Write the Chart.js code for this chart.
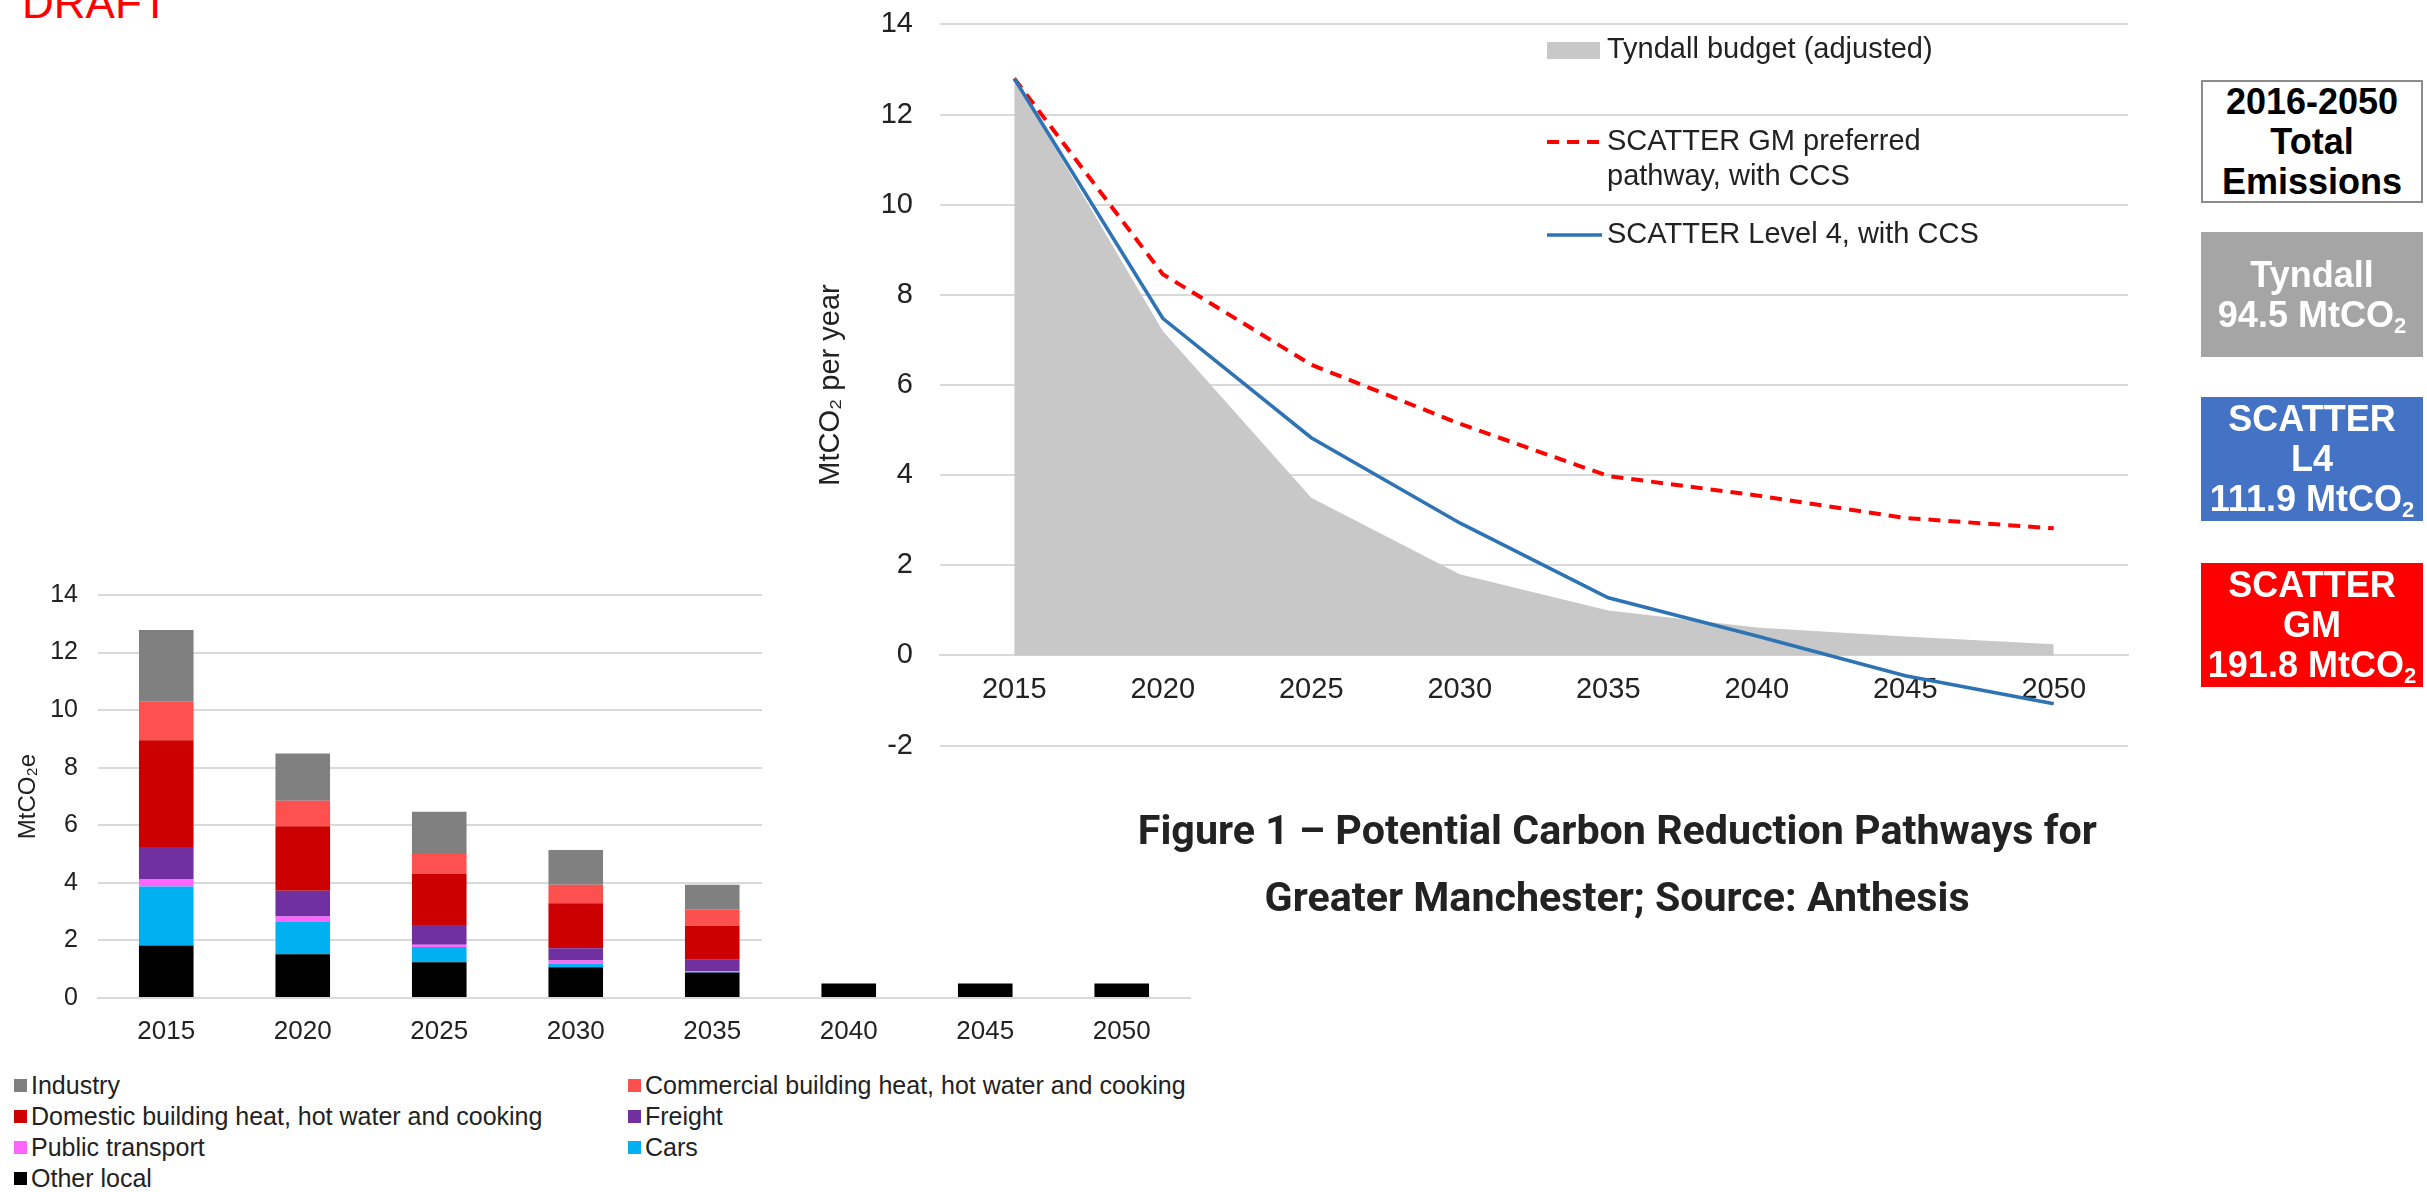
<!DOCTYPE html>
<html>
<head>
<meta charset="utf-8">
<script src="https://cdn.jsdelivr.net/npm/chart.js@4/dist/chart.umd.min.js"></script>
<style>
  html, body { margin: 0; padding: 0; background: #fff; }
  body { width: 2427px; height: 1192px; position: relative; overflow: hidden; font-family: 'Liberation Sans', Arial, sans-serif; }
  canvas { position: absolute; }
  #barCanvas { left: 0; top: 560px; z-index: 0; }
  #mask { position: absolute; left: 762px; top: 0; width: 1440px; height: 962px; background: #fff; z-index: 1; }
  #lineCanvas { left: 780px; top: -20px; z-index: 2; }
  #draft { position: absolute; left: 22px; top: -19px; font-size: 44px; line-height: 44px; color: #ff0000; z-index: 3; }
  .cap { position: absolute; left: 917px; width: 1400px; height: 60px; line-height: 60px; text-align: center; z-index: 3;
         font-family: Roboto, 'Liberation Sans', sans-serif; font-weight: 700; font-size: 40px; color: #222; white-space: nowrap; }
  .cap span { display: inline-block; }
  .box { position: absolute; left: 2201px; width: 222px; display: flex; align-items: center; justify-content: center; text-align: center;
         font-weight: bold; font-size: 36px; line-height: 40px; color: #fff; z-index: 3; box-sizing: border-box; }
  .box sub { font-size: 22px; line-height: 0; vertical-align: -6px; }
  #legendBar { position: absolute; left: 14px; top: 1070px; z-index: 3; display: grid; grid-template-columns: 614px auto; row-gap: 0; }
  .li { height: 31px; line-height: 31px; font-size: 25px; color: #222; white-space: nowrap; display: flex; align-items: center; }
  .li i { display: inline-block; width: 13px; height: 13px; margin-right: 4px; }
</style>
</head>
<body>
<div id="draft">DRAFT</div>
<canvas id="barCanvas" width="1200" height="500"></canvas>
<div id="mask"></div>
<canvas id="lineCanvas" width="1360" height="810"></canvas>
<div class="cap" id="cap1" style="top:801px"><span>Figure 1 – Potential Carbon Reduction Pathways for</span></div>
<div class="cap" id="cap2" style="top:868px"><span>Greater Manchester; Source: Anthesis</span></div>
<div class="box" style="top:80px;height:123px;border:2px solid #8c8c8c;background:#fff;color:#000;"><div>2016-2050<br>Total<br>Emissions</div></div>
<div class="box" style="top:232px;height:125px;background:#a5a5a5;"><div>Tyndall<br>94.5 MtCO<sub>2</sub></div></div>
<div class="box" style="top:397px;height:124px;background:#4472c4;"><div>SCATTER<br>L4<br>111.9 MtCO<sub>2</sub></div></div>
<div class="box" style="top:563px;height:124px;background:#ff0000;"><div>SCATTER<br>GM<br>191.8 MtCO<sub>2</sub></div></div>
<div id="legendBar"></div>
<script>
const years = ['2015', '2020', '2025', '2030', '2035', '2040', '2045', '2050']

// sector emissions, MtCO2e (stack order: bottom first)
const otherLocal      = [1.82, 1.52, 1.24, 1.07, 0.89, 0.5, 0.5, 0.5]
const cars            = [2.05, 1.14, 0.53, 0.12, 0.02, 0, 0, 0]
const publicTransport = [0.26, 0.17, 0.08, 0.11, 0.02, 0, 0, 0]
const freight         = [1.12, 0.90, 0.69, 0.43, 0.40, 0, 0, 0]
const domestic        = [3.70, 2.24, 1.77, 1.56, 1.18, 0, 0, 0]
const commercial      = [1.36, 0.88, 0.69, 0.64, 0.57, 0, 0, 0]
const industry        = [2.47, 1.64, 1.47, 1.21, 0.85, 0, 0, 0]

// pathways, MtCO2 per year
const tyndall   = [12.8, 7.2, 3.5, 1.8, 1.0, 0.62, 0.42, 0.25]
const scatterGM = [12.8, 8.46, 6.45, 5.14, 3.98, 3.55, 3.05, 2.82]
const scatterL4 = [12.8, 7.48, 4.83, 2.94, 1.28, 0.43, -0.45, -1.07]

const barTicks = [0, 2, 4, 6, 8, 10, 12, 14]
const lineTicks = [-2, 0, 2, 4, 6, 8, 10, 12, 14]

const sectors = [
  { label: 'Other local', data: otherLocal, color: '#000000' },
  { label: 'Cars', data: cars, color: '#00b0f0' },
  { label: 'Public transport', data: publicTransport, color: '#ff66ff' },
  { label: 'Freight', data: freight, color: '#7030a0' },
  { label: 'Domestic building heat, hot water and cooking', data: domestic, color: '#cc0000' },
  { label: 'Commercial building heat, hot water and cooking', data: commercial, color: '#ff5050' },
  { label: 'Industry', data: industry, color: '#808080' }
]

const txt = '#222'
const grid = '#d9d9d9'
const fam = "'Liberation Sans', Arial, sans-serif"

function buildBar () {
  const ctx = document.getElementById('barCanvas').getContext('2d')
  new Chart(ctx, {
    type: 'bar',
    data: {
      labels: years,
      datasets: sectors.map(s => ({
        label: s.label,
        data: s.data,
        backgroundColor: s.color,
        borderWidth: 0,
        barPercentage: 0.4,
        categoryPercentage: 1
      }))
    },
    options: {
      responsive: false,
      animation: false,
      layout: { padding: { top: 33, right: 10, left: 0, bottom: 0 } },
      plugins: { legend: { display: false }, tooltip: { enabled: false } },
      scales: {
        x: {
          stacked: true,
          grid: { display: false },
          border: { display: true, color: grid, width: 2 },
          ticks: { color: txt, padding: 10, font: { family: fam, size: 26 } },
          afterFit: s => { s.height = 62 }
        },
        y: {
          stacked: true,
          min: 0,
          max: 14,
          afterBuildTicks: s => { s.ticks = barTicks.map(v => ({ value: v })) },
          ticks: { color: txt, padding: 20, font: { family: fam, size: 25 } },
          grid: { color: grid, lineWidth: 2, drawTicks: false },
          border: { display: false },
          title: { display: true, text: 'MtCO₂e', color: txt, padding: { top: 14, bottom: 0 }, font: { family: fam, size: 24 } },
          afterFit: s => { s.width = 98 }
        }
      }
    }
  })

  // legend: top of the stack first, two columns
  const leg = document.getElementById('legendBar')
  sectors.slice().reverse().forEach(s => {
    const d = document.createElement('div')
    d.className = 'li'
    d.innerHTML = '<i style="background:' + s.color + '"></i>' + s.label
    leg.appendChild(d)
  })
}

const lineLegend = {
  id: 'lineLegend',
  afterDraw (chart) {
    const c = chart.ctx
    const x0 = 767, x1 = 822, tx = 827
    const rows = [70, 162, 255]
    c.save()
    c.font = '29px ' + fam
    c.fillStyle = txt
    c.textBaseline = 'middle'
    chart.data.datasets.forEach((ds, i) => {
      const y = rows[i]
      if (ds.fill) {
        c.fillStyle = ds.backgroundColor
        c.fillRect(x0, y - 8, x1 - x0 - 2, 17)
      } else {
        c.strokeStyle = ds.borderColor
        c.lineWidth = ds.borderWidth
        c.setLineDash(ds.borderDash || [])
        c.beginPath()
        c.moveTo(x0, y)
        c.lineTo(x1, y)
        c.stroke()
        c.setLineDash([])
      }
      c.fillStyle = txt
      ds.label.split('\n').forEach((t, k) => c.fillText(t, tx, y + k * 35))
    })
    c.restore()
  }
}

function buildLine () {
  const ctx = document.getElementById('lineCanvas').getContext('2d')
  new Chart(ctx, {
    type: 'line',
    data: {
      labels: years,
      datasets: [
        {
          label: 'Tyndall budget (adjusted)',
          data: tyndall,
          fill: 'origin',
          backgroundColor: '#c8c8c8',
          borderWidth: 0,
          borderColor: 'rgba(0,0,0,0)',
          pointRadius: 0,
          tension: 0,
          order: 3
        },
        {
          label: 'SCATTER GM preferred\npathway, with CCS',
          data: scatterGM,
          fill: false,
          borderColor: '#ff0000',
          borderWidth: 4,
          borderDash: [12, 8],
          pointRadius: 0,
          tension: 0,
          order: 2
        },
        {
          label: 'SCATTER Level 4, with CCS',
          data: scatterL4,
          fill: false,
          borderColor: '#2e74b5',
          borderWidth: 3.5,
          pointRadius: 0,
          tension: 0,
          order: 1
        }
      ]
    },
    options: {
      responsive: false,
      animation: false,
      layout: { padding: { top: 3, right: 12, left: 0, bottom: 43 } },
      plugins: { legend: { display: false }, tooltip: { enabled: false } },
      scales: {
        x: {
          type: 'category',
          offset: true,
          position: { y: 0 },
          grid: { display: false },
          border: { display: true, color: grid, width: 2 },
          ticks: { color: txt, padding: 9, font: { family: fam, size: 29 } }
        },
        y: {
          min: -2,
          max: 14,
          afterBuildTicks: s => { s.ticks = lineTicks.map(v => ({ value: v })) },
          ticks: { color: txt, padding: 27, font: { family: fam, size: 29 } },
          grid: { color: grid, lineWidth: 2, drawTicks: false },
          border: { display: false },
          title: { display: true, text: 'MtCO₂ per year', color: txt, padding: { top: 34, bottom: 0 }, font: { family: fam, size: 29 } },
          afterFit: s => { s.width = 160 }
        }
      }
    },
    plugins: [lineLegend]
  })
}

function fitCaption () {
  const s1 = document.querySelector('#cap1 span')
  const s2 = document.querySelector('#cap2 span')
  const k = 959 / s1.getBoundingClientRect().width
  ;[s1, s2].forEach(s => { s.style.transform = 'scaleX(' + k + ')'; s.style.transformOrigin = 'center' })
}

buildBar()
buildLine()
fitCaption()
</script>
</body>
</html>
